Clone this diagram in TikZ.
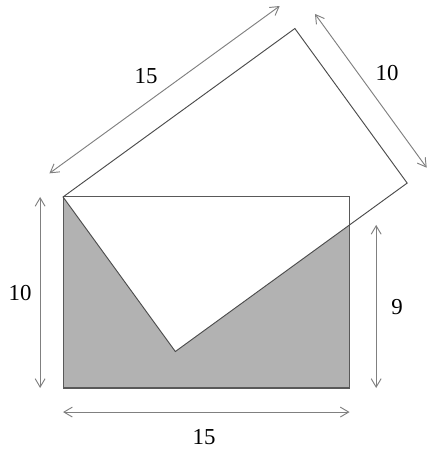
\documentclass[tikz,border=0pt]{standalone}
\usepackage{fontspec}
\setmainfont{Liberation Serif}
\usepackage{tikz}
\usetikzlibrary{arrows.meta, calc, intersections}

\begin{document}
\begin{tikzpicture}[
    x=0.5cm, y=0.5cm,
    sheet/.style={draw=black!65,line width=0.8pt},
    fold/.style={draw=black!70,line width=0.7pt},
    dim/.style={{Straight Barb[length=2.2mm,width=2.6mm]}-{Straight Barb[length=2.2mm,width=2.6mm]},draw=black!50,line width=0.7pt},
    lbl/.style={font=\fontsize{17}{20}\selectfont,text=black}
]
\useasboundingbox (-3.30,-3.35) rectangle (19.01,20.31);

% paper corners
\coordinate (bl) at (0,0);
\coordinate (br) at (15,0);
\coordinate (tr) at (15,10);
\coordinate (tl) at (0,10);

% folded flap
\coordinate (tip) at ($(tl)+(-54:10)$);
\coordinate (top) at ($(tl)+(36:15)$);
\coordinate (far) at ($(tip)+(36:15)$);
\path[name path=edge] (tip) -- (far);
\path[name path=side] (br) -- (tr);
\path[name intersections={of=edge and side, by=cut}];

\fill[black!30] (bl) rectangle (tr);
\fill[white] (tl) -- (tip) -- (far) -- (top) -- cycle;
\draw[sheet] (bl) rectangle (tr);
\draw[fold] (tl) -- (tip) -- (far) -- (top) -- cycle;

% dimension ends
\coordinate (longA) at ($(tl)+(126:1.42)+(36:0.15)$);
\coordinate (longB) at ($(tl)+(126:1.42)+(36:15.05)$);
\coordinate (shortA) at ($(top)+(36:1.3)$);
\coordinate (shortB) at ($(top)+(36:1.3)+(-54:9.95)$);
\coordinate (leftA) at (-1.2,10);
\coordinate (leftB) at (-1.2,0);
\coordinate (rightA) at (16.39,0);
\coordinate (rightB) at (cut -| rightA);
\coordinate (baseA) at (0,-1.26);
\coordinate (baseB) at (15,-1.26);

\draw[dim] (longA) -- (longB);
\draw[dim] (shortA) -- (shortB);
\draw[dim] (leftA) -- (leftB);
\draw[dim] (rightA) -- (rightB);
\draw[dim] (baseA) -- (baseB);

\node[lbl] (longLbl) at (4.35,16.34) {15};
\node[lbl] (shortLbl) at (16.96,16.49) {10};
\node[lbl] (leftLbl) at (-2.25,4.97) {10};
\node[lbl] (rightLbl) at (17.49,4.24) {9};
\node[lbl] (baseLbl) at (7.38,-2.57) {15};

\end{tikzpicture}
\end{document}
